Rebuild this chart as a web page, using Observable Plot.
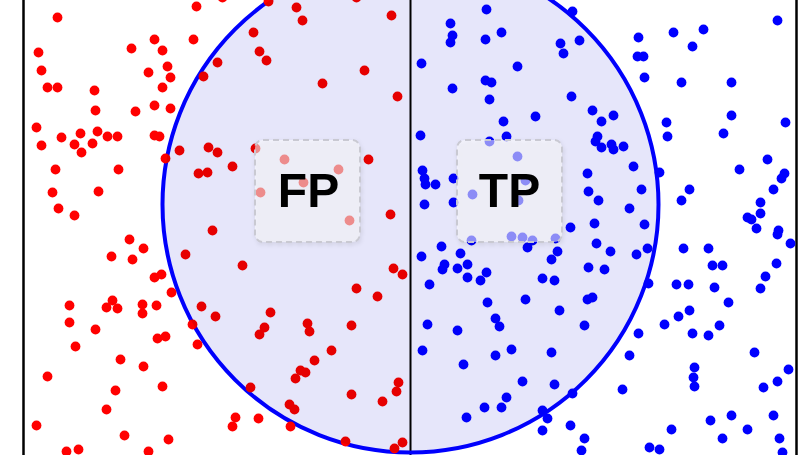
<!DOCTYPE html>
<html><head><meta charset="utf-8">
<script src="https://cdn.jsdelivr.net/npm/d3@7"></script>
<script src="https://cdn.jsdelivr.net/npm/@observablehq/plot@0.6"></script>
<style>
html,body{margin:0;padding:0;background:#fff;overflow:hidden;}
</style></head><body><div id="chart"></div>
<script>
const fpPoints = [
[57,17],[196,6],[222,-3],[38,52],[41,70],[47,87],[57,87],[94,90],[95,110],[131,48],[154,39],[162,50],[167,66],[170,77],[148,72],[162,87],[193,39],[154,105],[170,108],[135,111],[36,127],[41,145],[61,137],[74,144],[80,133],[81,152],[92,143],[97,131],[107,136],[117,136],[154,135],[159,136],[55,169],[118,169],[52,192],[98,191],[58,208],[74,215],[165,158],[179,150],[203,76],[217,62],[253,32],[259,51],[266,60],[208,147],[217,152],[198,173],[207,172],[232,166],[255,148],[260,192],[212,230],
[268,1],[296,7],[302,20],[356,-3],[391,15],[364,70],[322,83],[397,96],[368,159],[284,159],[338,169],[303,182],[349,220],[390,214],
[129,239],[143,248],[111,256],[132,259],[185,254],[242,265],[154,277],[161,274],[171,292],[69,305],[69,322],[75,346],[95,329],[106,307],[112,300],[117,308],[142,304],[142,313],[156,305],[157,338],[165,336],[192,324],[197,344],[201,306],[215,316],[259,334],[264,327],[270,312],[120,359],[143,366],[47,376],[115,390],[162,386],[106,409],[36,425],[124,435],[168,439],[66,451],[78,449],[148,451],[250,387],[235,417],[232,426],[258,418],
[393,268],[402,274],[356,288],[377,296],[307,323],[309,331],[351,325],[331,350],[314,360],[300,370],[305,372],[295,378],[351,394],[382,401],[396,391],[398,382],[289,404],[294,409],[290,426],[345,441],[402,442],[394,448]
];
// True positives (blue, right half)
const tpPoints = [
[486,9],[450,23],[452,35],[450,42],[485,39],[501,32],[421,63],[517,66],[485,80],[491,82],[452,88],[489,99],[503,121],[535,116],[420,135],[506,136],[489,141],[517,156],[422,170],[424,178],[425,184],[435,184],[453,178],[472,194],[424,204],[453,202],[525,180],[518,200],
[572,11],[560,43],[563,53],[579,40],[638,37],[637,56],[643,56],[644,77],[673,32],[703,29],[692,46],[777,20],[681,82],[731,82],[731,115],[723,133],[785,122],[666,122],[667,136],[571,96],[592,110],[601,121],[613,115],[597,136],[595,141],[601,147],[611,144],[613,149],[623,146],[633,166],[587,173],[659,172],[588,191],[598,200],[641,189],[629,208],[739,169],[767,159],[784,173],[781,178],[773,189],[689,189],[681,200],[760,202],[760,213],[747,217],[751,219],[756,228],[778,230],[570,227],[594,223],[644,224],
[471,240],[511,236],[522,237],[532,240],[527,247],[421,256],[441,246],[460,253],[444,264],[442,269],[457,268],[467,264],[467,277],[480,280],[486,272],[429,284],[487,302],[525,299],[495,318],[499,326],[427,324],[457,330],[422,350],[463,364],[495,355],[511,349],[522,381],[506,397],[484,407],[501,407],[466,417],
[555,238],[557,251],[551,259],[596,243],[610,251],[636,254],[647,248],[588,267],[604,269],[542,278],[554,280],[648,283],[587,299],[592,297],[559,310],[584,325],[551,352],[554,384],[572,393],[542,410],[547,418],[542,430],[570,425],[584,438],[581,450],[638,333],[629,355],[622,389],[683,248],[708,248],[712,265],[722,265],[676,284],[688,284],[714,287],[728,302],[689,310],[678,316],[664,324],[692,333],[708,335],[719,325],[777,234],[790,243],[776,263],[765,276],[760,288],[754,352],[694,367],[693,377],[694,386],[788,369],[777,381],[763,387],[710,420],[731,415],[747,429],[773,415],[779,438],[782,452],[671,429],[722,438],[649,447],[659,449]
];
// Frame and decision boundary positions (x)
const frameX = [23, 796];
const dividerX = [410];
// Circle: centre and radius in chart units
const circleCenter = [410, 204];
const circleRadius = 248;
// Labels
const labels = ["FP", "TP"];
const labelX = [308, 509];
const labelY = [191, 191];
const boxX1 = [255, 457], boxX2 = [360, 562];
const boxY1 = [140, 140], boxY2 = [242, 242];

const fp = fpPoints.map(([x, y]) => ({x, y}));
const tp = tpPoints.map(([x, y]) => ({x, y}));
const circle = [{x: circleCenter[0], y: circleCenter[1], r: circleRadius}];
const boxes = labels.map((t, i) => ({t, x1: boxX1[i], x2: boxX2[i], y1: boxY1[i], y2: boxY2[i], x: labelX[i], y: labelY[i]}));

const chart = Plot.plot({
  width: 808, height: 455,
  margin: 0,
  style: {overflow: "hidden", background: "white"},
  x: {domain: [0, 808], axis: null},
  y: {domain: [0, 455], reverse: true, axis: null},
  r: {type: "identity"},
  marks: [
    Plot.ruleX(frameX, {stroke: "black", strokeWidth: 2.5}),
    Plot.ruleX(dividerX, {stroke: "black", strokeWidth: 2}),
    Plot.dot(circle, {x: "x", y: "y", r: "r", fill: "none", stroke: "blue", strokeWidth: 4}),
    Plot.dot(fp, {x: "x", y: "y", r: 4.9, fill: "red"}),
    Plot.dot(tp, {x: "x", y: "y", r: 4.9, fill: "blue"}),
    Plot.dot(circle, {x: "x", y: "y", r: "r", fill: "lavender", mixBlendMode: "multiply"}),
    Plot.rect(boxes, {x1: "x1", x2: "x2", y1: "y1", y2: "y2", fill: "white", fillOpacity: 0.55,
      stroke: "#c9c9d2", strokeWidth: 2, strokeDasharray: "6,4", rx: 8}),
    Plot.text(boxes, {x: "x", y: "y", text: "t", fontSize: 48, fontWeight: "bold",
      fontFamily: "Liberation Sans, Arial, sans-serif", fill: "black"})
  ]
});
chart.querySelectorAll('g[aria-label="rect"] rect').forEach(r => {
  r.style.filter = "drop-shadow(1px 2px 2px rgba(0,0,0,0.12))";
});
document.getElementById("chart").appendChild(chart);
</script></body></html>
